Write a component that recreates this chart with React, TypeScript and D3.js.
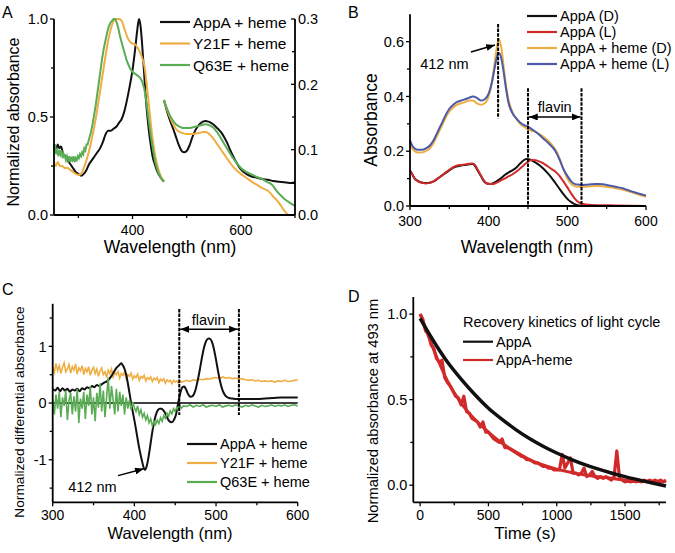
import React from "react";
import * as d3 from "d3";

type Pt = [number, number];

const FONT = "'Liberation Sans', Arial, Helvetica, sans-serif";
const BLACK = "#111111";
const YELLOW = "#EFAE44";
const GREEN = "#5BAD55";
const RED = "#D12A2A";
const BLUE = "#4B5BA9";

// ---------- Panel A: normalized absorbance ----------
const aLegend = ["AppA + heme", "Y21F + heme", "Q63E + heme"];
const aTicksX = [400, 600];
const aMinorX = [300, 500, 700];
const aTicksLeft = [0, 0.5, 1];
const aMinorLeft = [0.25, 0.75];
const aTicksRight = [0, 0.1, 0.2, 0.3];
const aMinorRight = [0.05, 0.15, 0.25];

// left part (Soret region), read on the left axis
const aAppaLeft: Pt[] = [
  [255, 0.36], [258, 0.33], [262, 0.36], [265, 0.34], [268, 0.35], [272, 0.31], [276, 0.3],
  [280, 0.28], [285, 0.26], [290, 0.24], [295, 0.22], [300, 0.21], [305, 0.2], [310, 0.21],
  [315, 0.23], [320, 0.26], [325, 0.28], [330, 0.3], [335, 0.32], [340, 0.34], [345, 0.37],
  [350, 0.41], [355, 0.43], [360, 0.43], [365, 0.44], [370, 0.45], [375, 0.47], [380, 0.49],
  [385, 0.53], [390, 0.59], [395, 0.66], [400, 0.74], [405, 0.85], [409, 0.95], [412, 1.0],
  [415, 0.96], [418, 0.86], [421, 0.74], [425, 0.58], [429, 0.46], [433, 0.37], [437, 0.3],
  [441, 0.26], [446, 0.22], [451, 0.195], [458, 0.17],
];
const aY21fLeft: Pt[] = [
  [255, 0.27], [258, 0.25], [262, 0.27], [266, 0.25], [270, 0.25], [275, 0.24], [280, 0.24],
  [285, 0.23], [290, 0.22], [295, 0.21], [300, 0.205], [305, 0.21], [310, 0.24], [315, 0.28],
  [320, 0.33], [325, 0.39], [330, 0.46], [335, 0.54], [340, 0.63], [345, 0.72], [350, 0.81],
  [355, 0.89], [360, 0.95], [365, 0.99], [370, 1.0], [375, 1.0], [380, 0.99], [385, 0.95],
  [390, 0.91], [395, 0.885], [400, 0.875], [405, 0.87], [410, 0.85], [414, 0.83], [418, 0.8],
  [422, 0.76], [426, 0.67], [430, 0.57], [434, 0.46], [438, 0.37], [442, 0.3], [447, 0.24],
  [452, 0.2], [458, 0.17],
];
const aQ63eLeft: Pt[] = [
  [255, 0.33], [257, 0.36], [259, 0.31], [261, 0.34], [263, 0.3], [265, 0.33], [267, 0.31],
  [269, 0.33], [271, 0.29], [273, 0.31], [275, 0.3], [277, 0.28], [279, 0.3], [281, 0.28],
  [283, 0.3], [285, 0.27], [287, 0.29], [289, 0.28], [291, 0.3], [293, 0.27], [295, 0.29],
  [297, 0.28], [299, 0.3], [301, 0.29], [303, 0.31], [305, 0.3], [307, 0.32], [309, 0.31],
  [311, 0.34], [313, 0.33], [315, 0.36], [317, 0.36], [320, 0.39], [323, 0.42], [326, 0.46],
  [329, 0.51], [332, 0.56], [335, 0.62], [338, 0.68], [341, 0.74], [344, 0.8], [347, 0.85],
  [350, 0.89], [353, 0.93], [356, 0.96], [359, 0.98], [362, 0.99], [365, 1.0], [368, 1.0],
  [371, 0.98], [374, 0.95], [377, 0.91], [380, 0.88], [383, 0.85], [386, 0.82], [389, 0.79],
  [392, 0.77], [395, 0.75], [400, 0.73], [405, 0.72], [410, 0.71], [414, 0.7], [418, 0.68],
  [422, 0.64], [426, 0.57], [430, 0.48], [434, 0.4], [438, 0.33], [442, 0.27], [447, 0.22],
  [452, 0.19], [458, 0.17],
];
// right part (Q bands), read on the right axis
const aAppaRight: Pt[] = [
  [458, 0.176], [465, 0.155], [470, 0.143], [475, 0.132], [480, 0.12], [485, 0.108],
  [490, 0.099], [495, 0.096], [500, 0.098], [505, 0.106], [510, 0.118], [515, 0.128],
  [520, 0.135], [525, 0.14], [530, 0.143], [535, 0.144], [540, 0.143], [545, 0.141],
  [550, 0.138], [555, 0.134], [560, 0.13], [565, 0.125], [570, 0.118], [575, 0.11],
  [580, 0.1], [585, 0.091], [590, 0.083], [595, 0.076], [600, 0.07], [610, 0.063],
  [620, 0.059], [630, 0.057], [640, 0.055], [650, 0.054], [660, 0.052], [670, 0.051],
  [680, 0.05], [690, 0.049], [700, 0.049],
];
const aY21fRight: Pt[] = [
  [458, 0.176], [465, 0.158], [470, 0.148], [475, 0.139], [480, 0.132], [485, 0.128],
  [490, 0.126], [500, 0.124], [510, 0.124], [520, 0.125], [525, 0.126], [530, 0.127],
  [535, 0.127], [540, 0.125], [545, 0.121], [550, 0.116], [555, 0.11], [560, 0.104],
  [565, 0.098], [570, 0.092], [575, 0.086], [580, 0.08], [590, 0.07], [600, 0.063],
  [610, 0.057], [620, 0.051], [630, 0.046], [640, 0.041], [650, 0.037], [655, 0.033],
  [660, 0.028], [665, 0.024], [670, 0.019], [675, 0.013], [680, 0.007], [685, 0.002], [688, 0],
];
const aQ63eRight: Pt[] = [
  [458, 0.176], [465, 0.16], [470, 0.151], [475, 0.144], [480, 0.139], [485, 0.136],
  [490, 0.134], [495, 0.133], [500, 0.133], [505, 0.133], [510, 0.134], [515, 0.135],
  [520, 0.136], [525, 0.137], [530, 0.138], [535, 0.139], [540, 0.138], [545, 0.136],
  [550, 0.133], [555, 0.128], [560, 0.122], [565, 0.115], [570, 0.108], [575, 0.101],
  [580, 0.094], [590, 0.082], [600, 0.072], [610, 0.066], [620, 0.062], [630, 0.058],
  [640, 0.055], [650, 0.05], [655, 0.048], [660, 0.044], [665, 0.038], [670, 0.033],
  [675, 0.029], [680, 0.025], [690, 0.019], [700, 0.014],
];

// ---------- Panel B: absorbance dark / light ----------
const bLegend = ["AppA (D)", "AppA (L)", "AppA + heme (D)", "AppA + heme (L)"];
const bTicksX = [300, 400, 500, 600];
const bMinorX = [350, 450, 550];
const bTicksY = [0, 0.2, 0.4, 0.6];
const bMinorY = [0.1, 0.3, 0.5];
const bSoretLine = 412;
const bFlavin = [450, 518];

const bAppaD: Pt[] = [
  [300, 0.13], [303, 0.115], [306, 0.1], [310, 0.092], [315, 0.086], [320, 0.084], [325, 0.085],
  [330, 0.09], [335, 0.1], [340, 0.11], [345, 0.12], [350, 0.13], [355, 0.14], [360, 0.145],
  [365, 0.148], [370, 0.15], [375, 0.152], [380, 0.153], [383, 0.145], [386, 0.13], [390, 0.11],
  [394, 0.09], [398, 0.082], [402, 0.08], [406, 0.083], [410, 0.09], [415, 0.1], [420, 0.112],
  [425, 0.122], [430, 0.13], [435, 0.14], [440, 0.155], [445, 0.168], [448, 0.172], [452, 0.17],
  [456, 0.165], [460, 0.158], [465, 0.148], [470, 0.135], [475, 0.12], [480, 0.103],
  [485, 0.083], [490, 0.063], [495, 0.043], [500, 0.026], [505, 0.014], [510, 0.006],
  [515, 0.002], [520, 0], [530, 0], [560, 0], [600, 0],
];
const bAppaL: Pt[] = [
  [300, 0.13], [303, 0.115], [306, 0.1], [310, 0.09], [315, 0.085], [320, 0.082], [325, 0.085],
  [330, 0.09], [335, 0.1], [340, 0.11], [345, 0.122], [350, 0.132], [355, 0.142], [360, 0.148],
  [365, 0.15], [370, 0.152], [375, 0.154], [380, 0.155], [383, 0.148], [386, 0.133],
  [390, 0.112], [394, 0.093], [398, 0.082], [402, 0.08], [406, 0.08], [410, 0.085],
  [415, 0.093], [420, 0.1], [425, 0.108], [430, 0.115], [435, 0.125], [440, 0.137],
  [445, 0.15], [450, 0.162], [455, 0.168], [460, 0.167], [465, 0.162], [470, 0.155],
  [475, 0.145], [480, 0.135], [485, 0.125], [490, 0.11], [495, 0.09], [500, 0.068],
  [505, 0.045], [510, 0.025], [515, 0.012], [520, 0.007], [525, 0.005], [530, 0.004],
  [540, 0.003], [560, 0.002], [600, 0],
];
const bHemeD: Pt[] = [
  [300, 0.23], [303, 0.21], [306, 0.2], [310, 0.195], [315, 0.195], [320, 0.2], [325, 0.21],
  [330, 0.23], [335, 0.26], [340, 0.29], [345, 0.32], [350, 0.345], [355, 0.36], [360, 0.37],
  [365, 0.375], [370, 0.38], [375, 0.385], [380, 0.385], [385, 0.375], [390, 0.37],
  [395, 0.375], [400, 0.4], [404, 0.45], [408, 0.53], [411, 0.59], [413, 0.61], [416, 0.58],
  [419, 0.51], [422, 0.44], [425, 0.39], [430, 0.345], [435, 0.32], [440, 0.3], [445, 0.29],
  [450, 0.28], [455, 0.275], [460, 0.27], [465, 0.262], [470, 0.252], [475, 0.24],
  [480, 0.225], [485, 0.205], [490, 0.175], [495, 0.135], [500, 0.1], [505, 0.08],
  [510, 0.072], [515, 0.07], [520, 0.07], [525, 0.071], [530, 0.072], [535, 0.073],
  [540, 0.073], [545, 0.072], [550, 0.07], [555, 0.068], [560, 0.066], [565, 0.063],
  [570, 0.06], [575, 0.056], [580, 0.052], [585, 0.047], [590, 0.042], [595, 0.038], [600, 0.034],
];
const bHemeL: Pt[] = [
  [300, 0.24], [303, 0.22], [306, 0.21], [310, 0.205], [315, 0.205], [320, 0.21], [325, 0.22],
  [330, 0.24], [335, 0.27], [340, 0.3], [345, 0.33], [350, 0.355], [355, 0.37], [360, 0.38],
  [365, 0.385], [370, 0.39], [375, 0.395], [380, 0.4], [385, 0.395], [390, 0.385],
  [395, 0.39], [400, 0.41], [404, 0.45], [408, 0.51], [411, 0.55], [413, 0.56], [416, 0.54],
  [419, 0.49], [422, 0.43], [425, 0.38], [430, 0.34], [435, 0.32], [440, 0.305], [445, 0.295],
  [450, 0.29], [455, 0.28], [460, 0.27], [465, 0.258], [470, 0.245], [475, 0.232],
  [480, 0.218], [485, 0.2], [490, 0.17], [495, 0.135], [500, 0.11], [505, 0.09], [510, 0.08],
  [515, 0.078], [520, 0.077], [525, 0.078], [530, 0.079], [535, 0.08], [540, 0.08],
  [545, 0.079], [550, 0.077], [555, 0.074], [560, 0.071], [565, 0.068], [570, 0.065],
  [575, 0.06], [580, 0.055], [585, 0.05], [590, 0.046], [595, 0.042], [600, 0.038],
];

// ---------- Panel C: light-minus-dark difference ----------
const cLegend = ["AppA + heme", "Y21F + heme", "Q63E + heme"];
const cTicksX = [300, 400, 500, 600];
const cMinorX = [350, 450, 550];
const cTicksY = [-1, 0, 1];
const cMinorY = [-1.5, -0.5, 0.5, 1.5];
const cFlavin = [455, 528];
const cWave = [...d3.range(300, 460, 2), ...d3.range(460, 601, 4)];

const cY21f = [
  0.62, 0.54, 0.7, 0.57, 0.66, 0.52, 0.63, 0.71, 0.55, 0.6, 0.68, 0.53, 0.64, 0.58, 0.69, 0.51, 0.62, 0.57, 0.66, 0.5,
  0.61, 0.55, 0.64, 0.49, 0.58, 0.63, 0.52, 0.6, 0.47, 0.57, 0.62, 0.5, 0.55, 0.45, 0.58, 0.52, 0.6, 0.46, 0.54, 0.5,
  0.56, 0.44, 0.52, 0.49, 0.55, 0.43, 0.5, 0.47, 0.53, 0.42, 0.48, 0.45, 0.51, 0.4, 0.47, 0.44, 0.49, 0.39, 0.45, 0.42,
  0.46, 0.38, 0.44, 0.41, 0.45, 0.36, 0.42, 0.39, 0.43, 0.35, 0.41, 0.38, 0.4, 0.34, 0.4, 0.37, 0.39, 0.35, 0.39, 0.37,
  0.38,
  0.4, 0.38, 0.41, 0.4, 0.42, 0.41, 0.43, 0.42, 0.44, 0.45, 0.43, 0.46, 0.44, 0.45, 0.43, 0.44, 0.42, 0.43, 0.41, 0.4,
  0.41, 0.39, 0.4, 0.38, 0.39, 0.38, 0.39, 0.37, 0.39, 0.38, 0.4, 0.38, 0.39, 0.4, 0.41,
];
const cQ63e = [
  0.05, -0.2, 0.15, -0.1, 0.2, -0.25, 0.1, -0.05, 0.22, -0.3, 0.05, 0.18, -0.2, 0.12, -0.15, 0.25, -0.35, 0.08, -0.1, 0.2,
  -0.28, 0.15, -0.05, 0.3, -0.2, 0.1, -0.32, 0.18, -0.08, 0.35, -0.15, 0.22, -0.25, 0.1, 0.45, -0.1, 0.3, 0.05, -0.2, 0.25,
  -0.15, 0.2, -0.05, 0.15, -0.2, 0.1, -0.1, 0.05, -0.12, 0.02,
  -0.08, -0.15, -0.05, -0.2, -0.12, -0.25, -0.18, -0.3, -0.22, -0.35, -0.28, -0.4, -0.32, -0.38, -0.3,
  -0.36, -0.26, -0.32, -0.22, -0.27, -0.18, -0.23, -0.14, -0.19, -0.1, -0.15, -0.07, -0.12, -0.05, -0.09,
  -0.05,
  -0.06, -0.03, -0.07, -0.04, -0.06, -0.03, -0.07, -0.05, -0.04, -0.06, -0.03, -0.07, -0.05, -0.04, -0.06, -0.03, -0.05, -0.07,
  -0.04, -0.06, -0.03, -0.05, -0.07, -0.04, -0.06, -0.05, -0.03, -0.06, -0.04, -0.05, -0.03, -0.06, -0.04, -0.03, -0.05,
];
const cAppa: Pt[] = [
  [300, 0.25], [303, 0.22], [306, 0.27], [309, 0.21], [312, 0.26], [315, 0.22], [318, 0.25],
  [321, 0.2], [324, 0.24], [327, 0.22], [330, 0.25], [333, 0.21], [336, 0.26], [339, 0.24],
  [342, 0.28], [345, 0.26], [348, 0.3], [351, 0.28], [354, 0.32], [357, 0.3], [360, 0.33],
  [363, 0.36], [366, 0.38], [369, 0.42], [372, 0.48], [375, 0.55], [378, 0.62], [381, 0.66],
  [384, 0.7], [386, 0.66], [388, 0.6], [390, 0.5], [392, 0.35], [394, 0.18], [396, 0],
  [398, -0.15], [400, -0.3], [403, -0.55], [406, -0.8], [409, -1.0], [411, -1.12], [413, -1.18],
  [415, -1.12], [417, -0.98], [419, -0.8], [421, -0.6], [423, -0.42], [425, -0.28], [427, -0.18],
  [429, -0.12], [431, -0.1], [433, -0.1], [435, -0.12], [437, -0.16], [439, -0.22], [441, -0.28],
  [443, -0.32], [445, -0.34], [447, -0.33], [449, -0.28], [451, -0.2], [453, -0.05], [455, 0.1],
  [457, 0.22], [459, 0.28], [461, 0.29], [463, 0.25], [465, 0.18], [467, 0.13], [469, 0.11],
  [471, 0.12], [473, 0.16], [475, 0.24], [477, 0.36], [479, 0.5], [481, 0.66], [483, 0.82],
  [485, 0.96], [487, 1.06], [489, 1.12], [491, 1.14], [493, 1.13], [495, 1.08], [497, 0.98],
  [499, 0.84], [501, 0.68], [503, 0.52], [505, 0.38], [507, 0.27], [509, 0.19], [511, 0.14],
  [513, 0.11], [516, 0.09], [520, 0.08], [525, 0.07], [530, 0.07], [540, 0.07], [550, 0.07],
  [560, 0.08], [570, 0.09], [580, 0.1], [590, 0.1], [600, 0.1],
];

// ---------- Panel D: recovery kinetics ----------
const dLegendTitle = "Recovery kinetics of light cycle";
const dLegend = ["AppA", "AppA-heme"];
const dTicksX = [0, 500, 1000, 1500];
const dMinorX = [250, 750, 1250, 1750];
const dTicksY = [0, 0.5, 1.0];
const dMinorY = [0.25, 0.75];
const dTimeFit = [0, 100, 200, 300, 400, 500, 600, 700, 800, 900, 1000, 1100, 1200, 1300, 1400, 1500, 1600, 1700, 1800];
const dAppaFit = [0.975, 0.84, 0.72, 0.62, 0.53, 0.45, 0.385, 0.325, 0.273, 0.228, 0.188, 0.153, 0.122, 0.095, 0.071, 0.05, 0.031, 0.013, -0.005];
const dHemeFit = [1.0, 0.79, 0.61, 0.48, 0.385, 0.31, 0.245, 0.195, 0.15, 0.118, 0.094, 0.076, 0.061, 0.05, 0.04, 0.031, 0.026, 0.024, 0.022];
const dTimeRaw = d3.range(0, 1801, 20);
const dHemeRaw = [
  1.0, 0.97, 0.9, 0.89, 0.82, 0.8, 0.74, 0.72, 0.73, 0.63, 0.6, 0.58, 0.55, 0.52, 0.51, 0.47, 0.52, 0.43, 0.42, 0.39,
  0.38, 0.37, 0.34, 0.37, 0.31, 0.31, 0.29, 0.27, 0.26, 0.25, 0.27, 0.22, 0.22, 0.21, 0.2, 0.19, 0.18, 0.17, 0.165, 0.15,
  0.15, 0.14, 0.13, 0.13, 0.12, 0.11, 0.11, 0.1, 0.1, 0.09, 0.09, 0.09, 0.18, 0.1, 0.13, 0.16, 0.07, 0.07, 0.06, 0.07,
  0.1, 0.05, 0.06, 0.08, 0.05, 0.04, 0.05, 0.04, 0.05, 0.04, 0.03, 0.05, 0.2, 0.04, 0.03, 0.02, 0.03, 0.02, 0.03, 0.02,
  0.03, 0.02, 0.03, 0.02, 0.03, 0.02, 0.03, 0.02, 0.03, 0.02, 0.03,
];

// ---------- scales ----------
const axA = d3.scaleLinear().domain([255, 700]).range([54, 295]);
const ayA = d3.scaleLinear().domain([0, 1]).range([215, 19]);
const ayA2 = d3.scaleLinear().domain([0, 0.3]).range([215, 19]);
const bx = d3.scaleLinear().domain([300, 600]).range([410, 646]);
const by = d3.scaleLinear().domain([0, 0.7]).range([206, 14.3]);
const cx = d3.scaleLinear().domain([300, 600]).range([52.7, 297.7]);
const cy = d3.scaleLinear().domain([-1.75, 1.75]).range([502.3, 303.8]);
const dx = d3.scaleLinear().domain([-50, 1800]).range([413.3, 666]);
const dy = d3.scaleLinear().domain([-0.1, 1.1]).range([502.3, 297]);

type Lin = d3.ScaleLinear<number, number>;

function pathOf(data: Pt[], x: Lin, y: Lin, smooth = true) {
  const gen = d3.line<Pt>().x((d) => x(d[0])).y((d) => y(d[1]));
  if (smooth) gen.curve(d3.curveMonotoneX);
  return gen(data) || "";
}

function XAxis({ x, y, ticks, minor, fmt = (v: number) => String(v), size = 14, offset = 19 }: any) {
  const [r0, r1] = x.range();
  return (
    <g>
      <line x1={r0} x2={r1} y1={y} y2={y} stroke="#000" strokeWidth={1.8} />
      {minor.map((t: number) => (
        <line key={"m" + t} x1={x(t)} x2={x(t)} y1={y} y2={y + 3} stroke="#000" strokeWidth={1.3} />
      ))}
      {ticks.map((t: number) => (
        <g key={t}>
          <line x1={x(t)} x2={x(t)} y1={y} y2={y + 4} stroke="#000" strokeWidth={1.3} />
          <text x={x(t)} y={y + offset} textAnchor="middle" fontSize={size}>{fmt(t)}</text>
        </g>
      ))}
    </g>
  );
}

function YAxis({ x, y, ticks, minor, fmt = (v: number) => String(v), size = 14.5, right = false }: any) {
  const [r0, r1] = y.range();
  return (
    <g>
      <line x1={x} x2={x} y1={r0} y2={r1} stroke="#000" strokeWidth={1.8} />
      {minor.map((t: number) => (
        <line key={"m" + t} x1={x} x2={x - 3} y1={y(t)} y2={y(t)} stroke="#000" strokeWidth={1.3} />
      ))}
      {ticks.map((t: number) => (
        <g key={t}>
          <line x1={x} x2={x - 4} y1={y(t)} y2={y(t)} stroke="#000" strokeWidth={1.3} />
          <text
            x={right ? x + 3 : x - 6}
            y={y(t)}
            dy="0.36em"
            textAnchor={right ? "start" : "end"}
            fontSize={size}
          >
            {fmt(t)}
          </text>
        </g>
      ))}
    </g>
  );
}

function Legend({ items, colors, x, y0, step, size }: any) {
  return (
    <g>
      {items.map((name: string, i: number) => (
        <g key={name}>
          <line x1={x} x2={x + 30} y1={y0 + i * step} y2={y0 + i * step} stroke={colors[i]} strokeWidth={2.2} />
          <text x={x + 33} y={y0 + i * step} dy="0.36em" fontSize={size}>{name}</text>
        </g>
      ))}
    </g>
  );
}

const f1 = (v: number) => v.toFixed(1);

export default function App() {
  const dashed = { stroke: "#000", strokeWidth: 2, strokeDasharray: "3.5,1.2" };

  return (
    <svg
      width={675}
      height={553}
      viewBox="0 0 675 553"
      style={{ position: "absolute", left: 0, top: 0, background: "#fff" }}
      fontFamily={FONT}
    >
      <defs>
        <marker id="ah" viewBox="0 0 10 8" refX={10} refY={4} markerWidth={9} markerHeight={7}
          markerUnits="userSpaceOnUse" orient="auto-start-reverse">
          <path d="M0,0 L10,4 L0,8 z" fill="#000" />
        </marker>
      </defs>

      {/* ---------------- A ---------------- */}
      <text x={2} y={18} fontSize={16}>A</text>
      <path d={pathOf(aAppaLeft, axA, ayA)} fill="none" stroke={BLACK} strokeWidth={2} />
      <path d={pathOf(aY21fLeft, axA, ayA)} fill="none" stroke={YELLOW} strokeWidth={2} />
      <path d={pathOf(aQ63eLeft, axA, ayA, false)} fill="none" stroke={GREEN} strokeWidth={2} />
      <path d={pathOf(aAppaRight, axA, ayA2)} fill="none" stroke={BLACK} strokeWidth={2} />
      <path d={pathOf(aY21fRight, axA, ayA2)} fill="none" stroke={YELLOW} strokeWidth={2} />
      <path d={pathOf(aQ63eRight, axA, ayA2)} fill="none" stroke={GREEN} strokeWidth={2} />
      <XAxis x={axA} y={215} ticks={aTicksX} minor={aMinorX} offset={19.5} />
      <YAxis x={54} y={ayA} ticks={aTicksLeft} minor={aMinorLeft} fmt={f1} />
      <YAxis x={295} y={ayA2} ticks={aTicksRight} minor={aMinorRight} fmt={f1} right />
      <text x={170} y={253} textAnchor="middle" fontSize={17.5}>Wavelength (nm)</text>
      <text transform="translate(19,122) rotate(-90)" textAnchor="middle" fontSize={16}>Normalized absorbance</text>
      <Legend items={aLegend} colors={[BLACK, YELLOW, GREEN]} x={160} y0={22} step={21.5} size={15.5} />

      {/* ---------------- B ---------------- */}
      <text x={348} y={18} fontSize={16}>B</text>
      <path d={pathOf(bAppaD, bx, by)} fill="none" stroke={BLACK} strokeWidth={2} />
      <path d={pathOf(bAppaL, bx, by)} fill="none" stroke={RED} strokeWidth={2} />
      <path d={pathOf(bHemeD, bx, by)} fill="none" stroke={YELLOW} strokeWidth={2} />
      <path d={pathOf(bHemeL, bx, by)} fill="none" stroke={BLUE} strokeWidth={2} />
      <line x1={bx(bSoretLine)} x2={bx(bSoretLine)} y1={by(0.665)} y2={by(0.32)} {...dashed} />
      {bFlavin.map((w) => (
        <line key={w} x1={bx(w)} x2={bx(w)} y1={by(0.43)} y2={by(0)} {...dashed} />
      ))}
      <line x1={bx(bFlavin[0]) + 1} x2={bx(bFlavin[1]) - 1} y1={by(0.325)} y2={by(0.325)}
        stroke="#000" strokeWidth={1.5} markerStart="url(#ah)" markerEnd="url(#ah)" />
      <text x={bx(484)} y={by(0.345)} textAnchor="middle" fontSize={14.5}>flavin</text>
      <line x1={bx(377.5)} y1={by(0.562)} x2={bx(408)} y2={by(0.588)} stroke="#000" strokeWidth={1.5} markerEnd="url(#ah)" />
      <text x={bx(313)} y={by(0.5)} fontSize={14.5}>412 nm</text>
      <XAxis x={bx} y={206} ticks={bTicksX} minor={bMinorX} offset={20} />
      <YAxis x={410} y={by} ticks={bTicksY} minor={bMinorY} fmt={f1} />
      <text x={527} y={253} textAnchor="middle" fontSize={17.5}>Wavelength (nm)</text>
      <text transform="translate(377,120) rotate(-90)" textAnchor="middle" fontSize={17.5}>Absorbance</text>
      <Legend items={bLegend} colors={[BLACK, RED, YELLOW, BLUE]} x={527} y0={16} step={16} size={14.5} />

      {/* ---------------- C ---------------- */}
      <text x={2} y={295} fontSize={16}>C</text>
      <line x1={cx(300)} x2={cx(600)} y1={cy(0)} y2={cy(0)} stroke="#000" strokeWidth={1.5} />
      <path d={pathOf(cWave.map((w, i) => [w, cY21f[i]] as Pt), cx, cy, false)} fill="none" stroke={YELLOW} strokeWidth={1.6} />
      <path d={pathOf(cAppa, cx, cy)} fill="none" stroke={BLACK} strokeWidth={2} />
      <path d={pathOf(cWave.map((w, i) => [w, cQ63e[i]] as Pt), cx, cy, false)} fill="none" stroke={GREEN} strokeWidth={1.6} />
      {cFlavin.map((w) => (
        <line key={w} x1={cx(w)} x2={cx(w)} y1={cy(1.66)} y2={cy(-0.21)} {...dashed} />
      ))}
      <line x1={cx(cFlavin[0]) + 1} x2={cx(cFlavin[1]) - 1} y1={cy(1.3)} y2={cy(1.3)}
        stroke="#000" strokeWidth={1.5} markerStart="url(#ah)" markerEnd="url(#ah)" />
      <text x={cx(491)} y={cy(1.38)} textAnchor="middle" fontSize={14.5}>flavin</text>
      <line x1={cx(380)} y1={cy(-1.28)} x2={cx(411.5)} y2={cy(-1.16)} stroke="#000" strokeWidth={1.5} markerEnd="url(#ah)" />
      <text x={cx(319)} y={cy(-1.56)} fontSize={14.5}>412 nm</text>
      <XAxis x={cx} y={502.3} ticks={cTicksX} minor={cMinorX} offset={18} />
      <YAxis x={52.7} y={cy} ticks={cTicksY} minor={cMinorY} />
      <text x={170} y={539} textAnchor="middle" fontSize={16.5}>Wavelength (nm)</text>
      <text transform="translate(23.5,412) rotate(-90)" textAnchor="middle" fontSize={13.7}>Normalized differential absorbance</text>
      <Legend items={cLegend} colors={[BLACK, YELLOW, GREEN]} x={187} y0={444} step={19} size={14.5} />

      {/* ---------------- D ---------------- */}
      <text x={348} y={302} fontSize={16}>D</text>
      <path d={pathOf(dTimeRaw.map((t, i) => [t, dHemeRaw[i]] as Pt), dx, dy, false)} fill="none" stroke={RED} strokeWidth={3.2} strokeLinejoin="round" />
      <path d={pathOf(dTimeFit.map((t, i) => [t, dHemeFit[i]] as Pt), dx, dy)} fill="none" stroke={RED} strokeWidth={3} />
      <path d={pathOf(dTimeFit.map((t, i) => [t, dAppaFit[i]] as Pt), dx, dy)} fill="none" stroke={BLACK} strokeWidth={3.5} />
      <XAxis x={dx} y={502.3} ticks={dTicksX} minor={dMinorX} offset={18} />
      <YAxis x={413.3} y={dy} ticks={dTicksY} minor={dMinorY} fmt={f1} />
      <text x={525} y={539} textAnchor="middle" fontSize={17}>Time (s)</text>
      <text transform="translate(378,411) rotate(-90)" textAnchor="middle" fontSize={14.7}>Normalized absorbance at 493 nm</text>
      <text x={463} y={321.7} dy="0.36em" fontSize={14.5}>{dLegendTitle}</text>
      <Legend items={dLegend} colors={[BLACK, RED]} x={463} y0={341.7} step={18.3} size={14.5} />
    </svg>
  );
}
